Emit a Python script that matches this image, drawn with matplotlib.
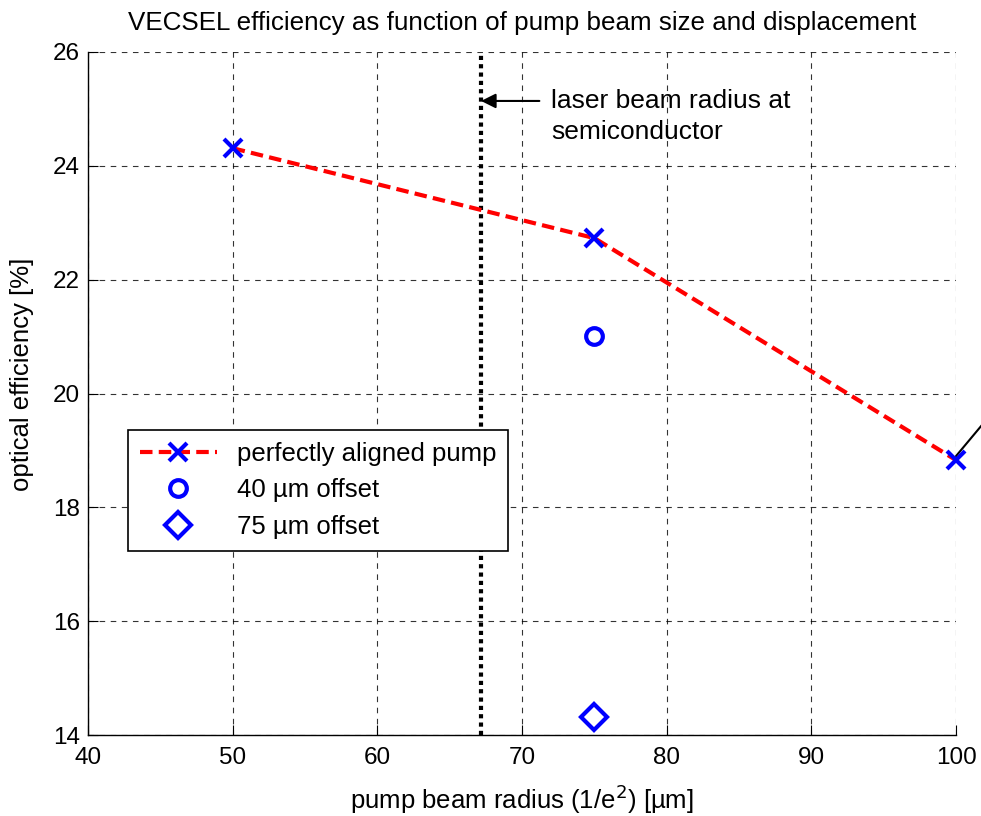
import matplotlib
matplotlib.use("Agg")
import matplotlib.pyplot as plt

plt.rcParams['font.family'] = ['Liberation Sans', 'DejaVu Sans']

# pump beam radius [um] and optical efficiency [%]
radius_aligned = [50, 75, 100]
eff_aligned = [24.31, 22.73, 18.83]
radius_40 = [75]
eff_40 = [21.01]
radius_75 = [75]
eff_75 = [14.32]
laser_radius = 67.17

xticks = [40, 50, 60, 70, 80, 90, 100]
yticks = [14, 16, 18, 20, 22, 24, 26]

fig = plt.figure(figsize=(9.81, 8.16), dpi=100)
ax = fig.add_axes([88/981, 81/816, 868/981, 683/816])

ax.plot(radius_aligned, eff_aligned, '--', color='red', lw=3, dashes=(3, 1.5),
        marker='x', ms=13, mew=3, mec='blue', label='perfectly aligned pump',
        zorder=4, clip_on=False)
ax.plot(radius_40, eff_40, 'o', ms=12, mfc='none', mec='blue', mew=3,
        label='40 \u00b5m offset', zorder=4)
ax.plot(radius_75, eff_75, 'D', ms=13, mfc='none', mec='blue', mew=3,
        label='75 \u00b5m offset', zorder=4)

ax.axvline(laser_radius, color='black', lw=3, ls=(0, (1, 1)), zorder=3)

ax.annotate('', xy=(laser_radius, 25.14), xytext=(71.2, 25.14),
            arrowprops=dict(arrowstyle='-|>', color='black', lw=1.5,
                            mutation_scale=22, shrinkA=0, shrinkB=0))
ax.text(72.0, 24.87, 'laser beam radius at\nsemiconductor', fontsize=19,
        va='center', ha='left', linespacing=1.37)

# pointer from the last aligned point towards a note outside the axes
ax.annotate('', xy=(100, 18.9), xytext=(102.3, 19.6),
            arrowprops=dict(arrowstyle='-', color='black', lw=1.5,
                            shrinkA=0, shrinkB=0), annotation_clip=False)

ax.set_xlim(40, 100)
ax.set_ylim(14, 26)
ax.set_xticks(xticks)
ax.set_yticks(yticks)
ax.tick_params(direction='in', length=7, labelsize=17.5, top=False, right=False)
ax.tick_params(axis='x', pad=9)
ax.tick_params(axis='y', pad=6)
ax.grid(True, color='black', ls=(0, (5, 5)), lw=0.8, alpha=0.8)
for s in ['top', 'right']:
    ax.spines[s].set_visible(False)
for s in ['left', 'bottom']:
    ax.spines[s].set_linewidth(1.0)

ax.set_xlabel('pump beam radius (1/e$^2$) [\u00b5m]', fontsize=18.5, labelpad=9)
ax.set_ylabel('optical efficiency [%]', fontsize=18.5)
ax.yaxis.set_label_coords((22 - 88) / 868, (735 - 374) / 683)
ax.yaxis.label.set_va('center')
ax.set_title('VECSEL efficiency as function of pump beam size and displacement',
             fontsize=18.7, pad=16)

leg = ax.legend(loc='upper left', bbox_to_anchor=((128-88)/868, (735-430)/683),
                fontsize=18.5, frameon=True, fancybox=False, edgecolor='black',
                handlelength=3.0, handletextpad=0.8, borderpad=0.45,
                labelspacing=0.5, borderaxespad=0)
leg.get_frame().set_linewidth(1.2)
leg.get_frame().set_alpha(1)

fig.savefig('out.png', dpi=100)
